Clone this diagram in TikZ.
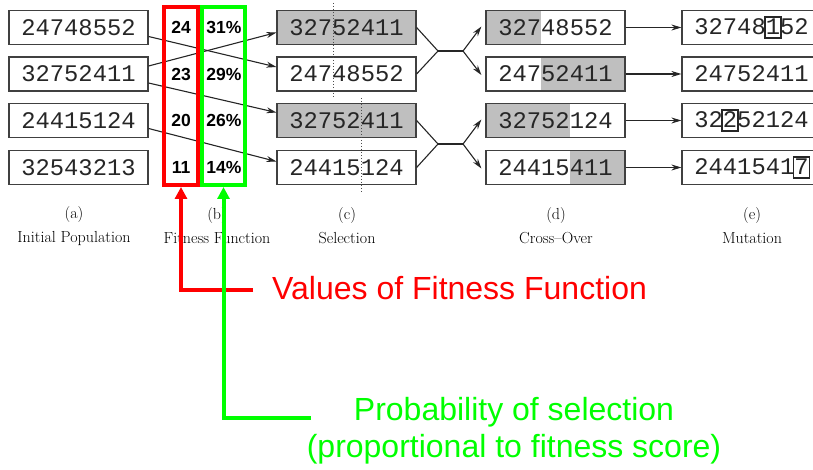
\documentclass[tikz,border=0pt]{standalone}
\usepackage{fontspec}
\usetikzlibrary{arrows.meta}

\newfontfamily\chromfont{Liberation Mono}
\newfontfamily\notefont{Liberation Sans}

% boxed gene after mutation (does not change the width of the string)
\newcommand{\mutated}[1]{\makebox[0.6em][c]{\setlength{\fboxsep}{0pt}\setlength{\fboxrule}{1.6pt}\fbox{\rule[-2.5pt]{0pt}{19.5pt}#1}}}

\tikzset{
  chrom/.style={draw=black!75, line width=1.2pt, minimum width=139pt, minimum height=34pt,
    inner sep=0pt, text=black!85, font=\chromfont\fontsize{23.8pt}{26pt}\selectfont},
  chosen/.style={chrom, fill=black!25},
  headgray/.style={path picture={\fill[black!25] (path picture bounding box.south west)
    rectangle ([xshift={12.5+#1*14.28}]path picture bounding box.north west);}},
  tailgray/.style={path picture={\fill[black!25] ([xshift={12.5+#1*14.28}]path picture bounding box.south west)
    rectangle (path picture bounding box.north east);}},
  score/.style={font=\notefont\bfseries\fontsize{17.5pt}{20pt}\selectfont, inner sep=0pt},
  caption/.style={font=\fontsize{16pt}{24pt}\selectfont, align=center, inner sep=0pt},
  link/.style={draw=black!85, line width=1.1pt},
  linkarrow/.style={link, -{Stealth[length=10pt,width=6pt]}},
  cut/.style={draw=black!70, line width=1pt, dotted},
  frame/.style={draw=#1, line width=4pt, minimum height=178pt, inner sep=0pt},
  pointer/.style={draw=#1, line width=4pt, -{Triangle[length=12pt,width=12pt]}},
  note/.style={text=#1, font=\notefont\fontsize{32pt}{37pt}\selectfont, inner sep=0pt}
}

\begin{document}
\begin{tikzpicture}[x=1pt,y=-1pt]
\useasboundingbox (0,0) rectangle (813,470);

% ---------------------------
% (a) initial population
% ---------------------------
\node[chrom] (a1) at (78.5,27.5)  {24748552};
\node[chrom] (a2) at (78.5,74)    {32752411};
\node[chrom] (a3) at (78.5,120.5) {24415124};
\node[chrom] (a4) at (78.5,167.5) {32543213};

% ---------------------------
% (b) fitness function
% ---------------------------
\node[score] (f1) at (181,27.5)  {24};
\node[score] (f2) at (181,74)    {23};
\node[score] (f3) at (181,120.5) {20};
\node[score] (f4) at (181,167.5) {11};
\node[score] (p1) at (224,27.5)  {31\%};
\node[score] (p2) at (224,74)    {29\%};
\node[score] (p3) at (224,120.5) {26\%};
\node[score] (p4) at (224,167.5) {14\%};

% ---------------------------
% (c) selection
% ---------------------------
\node[chosen] (c1) at (346.5,27.5)  {32752411};
\node[chrom]  (c2) at (346.5,74)    {24748552};
\node[chosen] (c3) at (346.5,120.5) {32752411};
\node[chrom]  (c4) at (346.5,167.5) {24415124};

\draw[linkarrow] ([shift={(0,9)}]a1.east)  -- ([shift={(0,-7)}]c2.west);
\draw[linkarrow] ([shift={(0,-8)}]a2.east) -- ([shift={(0,5)}]c1.west);
\draw[linkarrow] ([shift={(0,9)}]a2.east)  -- ([shift={(0,-8)}]c3.west);
\draw[linkarrow] ([shift={(0,8)}]a3.east)  -- ([shift={(0,-6)}]c4.west);

% cross-over points
\draw[cut] (333,3) -- (333,98);
\draw[cut] (361,98) -- (361,193);

% ---------------------------
% (d) cross-over
% ---------------------------
\node[chrom, headgray=3] (d1) at (555.5,27.5)  {32748552};
\node[chrom, tailgray=3] (d2) at (555.5,74)    {24752411};
\node[chrom, headgray=5] (d3) at (555.5,120.5) {32752124};
\node[chrom, tailgray=5] (d4) at (555.5,167.5) {24415411};

\coordinate (j1) at (438,51);
\coordinate (k1) at (463,51);
\coordinate (j2) at (438,144);
\coordinate (k2) at (463,144);

\draw[link] (c1.east) -- (j1) -- (c2.east);
\draw[link] (j1) -- (k1);
\draw[linkarrow] (k1) -- ([shift={(-4,-1)}]d1.west);
\draw[linkarrow] (k1) -- ([shift={(-4,1)}]d2.west);

\draw[link] (c3.east) -- (j2) -- (c4.east);
\draw[link] (j2) -- (k2);
\draw[linkarrow] (k2) -- ([shift={(-4,-1)}]d3.west);
\draw[linkarrow] (k2) -- ([shift={(-4,1)}]d4.west);

% ---------------------------
% (e) mutation
% ---------------------------
\node[chrom] (e1) at (751.5,27.5)  {32748\mutated{1}52};
\node[chrom] (e2) at (751.5,74)    {24752411};
\node[chrom] (e3) at (751.5,120.5) {32\mutated{2}52124};
\node[chrom] (e4) at (751.5,167.5) {2441541\mutated{7}};

\draw[linkarrow] (d1.east) -- (e1.west);
\draw[linkarrow] (d2.east) -- (e2.west);
\draw[linkarrow] (d3.east) -- (e3.west);
\draw[linkarrow] (d4.east) -- (e4.west);

% captions
\node[caption] (capa) at (74,226)  {(a)\\Initial Population};
\node[caption] (capb) at (217,226) {(b)\\Fitness Function};
\node[caption] (capc) at (347,226) {(c)\\Selection};
\node[caption] (capd) at (556,226) {(d)\\Cross--Over};
\node[caption] (cape) at (752,226) {(e)\\Mutation};

% ---------------------------
% annotations
% ---------------------------
\node[frame=red,   minimum width=34pt] (fitcol)  at (181,96)   {};
\node[frame=green, minimum width=43pt] (probcol) at (223.5,96) {};

\node[note=red, anchor=west] (vallab) at (272,288) {Values of Fitness Function};
\node[note=green, align=center] (problab) at (514,431)
  {Probability of selection\\(proportional to fitness score)};

\coordinate (valend)  at (253,290);
\coordinate (probend) at (311,418);

\draw[pointer=red]   (valend)  -| (fitcol.south);
\draw[pointer=green] (probend) -| (probcol.south);

\end{tikzpicture}
\end{document}
